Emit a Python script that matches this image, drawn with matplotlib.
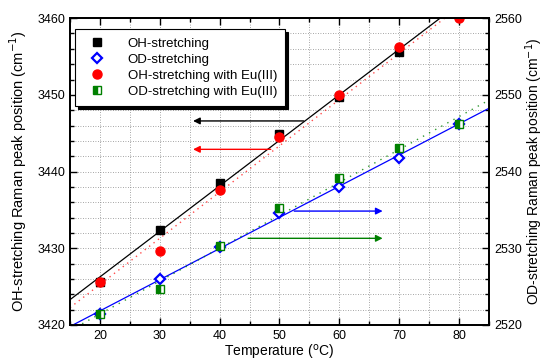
import numpy as np
import matplotlib.pyplot as plt
from matplotlib.ticker import MultipleLocator

plt.rcParams['font.family'] = ['Liberation Sans', 'DejaVu Sans']
plt.rcParams['font.size'] = 9

temp = [20, 30, 40, 50, 60, 70, 80]
oh = [3425.6, 3432.4, 3438.5, 3444.9, 3449.7, 3455.6, 3461.8]
oh_eu = [3425.6, 3429.6, 3437.6, 3444.5, 3450.0, 3456.2, 3460.0]
od = [2521.4, 2526.0, 2530.2, 2534.6, 2538.0, 2541.8, 2546.2]
od_eu = [2521.4, 2524.7, 2530.3, 2535.2, 2539.2, 2543.1, 2546.2]

fig = plt.figure(figsize=(5.45, 3.63), dpi=100)
ax = fig.add_axes([0.1284, 0.1047, 0.7688, 0.8453])
ax2 = ax.twinx()

xfit = np.array([15, 85])
t = np.array(temp)

# linear fits
p = np.polyfit(t, oh, 1)
ax.plot(xfit, np.polyval(p, xfit), color='black', lw=0.9)
p = np.polyfit(t, oh_eu, 1)
ax.plot(xfit, np.polyval(p, xfit), color='red', lw=1.0, ls=(0, (1, 3)), alpha=0.7)
p = np.polyfit(t, od, 1)
ax2.plot(xfit, np.polyval(p, xfit), color='blue', lw=0.9)
p = np.polyfit(t, od_eu, 1)
ax2.plot(xfit, np.polyval(p, xfit), color='green', lw=1.0, ls=(0, (1, 4)), alpha=0.8)

h1, = ax.plot(temp, oh, 's', color='black', ms=5.5, label='OH-stretching')
h3, = ax.plot(temp, oh_eu, 'o', color='red', ms=6.5, label='OH-stretching with Eu(III)')
h2, = ax2.plot(temp, od, 'D', mfc='white', mec='blue', mew=1.6, ms=5, label='OD-stretching')
h4, = ax2.plot(temp, od_eu, 's', color='green', fillstyle='left', mfc='green', mfcalt='white',
               mec='green', ms=5.5, label='OD-stretching with Eu(III)')

# arrows
arr = dict(arrowstyle='-|>', lw=1.0, mutation_scale=10)
ax.annotate('', xy=(35.1, 3446.6), xytext=(54.5, 3446.6), arrowprops=dict(color='black', **arr))
ax.annotate('', xy=(35.1, 3442.9), xytext=(49.0, 3442.9), arrowprops=dict(color='red', **arr))
ax2.annotate('', xy=(67.7, 2534.85), xytext=(52.0, 2534.85), arrowprops=dict(color='blue', **arr))
ax2.annotate('', xy=(67.7, 2531.3), xytext=(44.3, 2531.3), arrowprops=dict(color='green', **arr))

ax.set_xlim(15, 85)
ax.set_ylim(3420, 3460)
ax2.set_ylim(2520, 2560)
ax.xaxis.set_major_locator(MultipleLocator(10))
ax.xaxis.set_minor_locator(MultipleLocator(5))
ax.yaxis.set_major_locator(MultipleLocator(10))
ax.yaxis.set_minor_locator(MultipleLocator(2))
ax2.yaxis.set_major_locator(MultipleLocator(10))
ax2.yaxis.set_minor_locator(MultipleLocator(2))
ax.grid(True, which='both', color='#888888', ls=(0, (1, 2)), lw=0.6)
ax.set_axisbelow(True)

ax.tick_params(which='both', direction='in', top=True, labelsize=9)
ax.tick_params(which='major', length=5, width=1)
ax.tick_params(which='minor', length=3, width=1)
ax2.tick_params(which='both', direction='in', labelsize=9)
ax2.tick_params(which='major', length=5, width=1)
ax2.tick_params(which='minor', length=3, width=1)
for a in (ax, ax2):
    for s in a.spines.values():
        s.set_linewidth(1.3)

ax.set_xlabel('Temperature ($^{\\mathrm{o}}$C)', fontsize=10, labelpad=1)
ax.set_ylabel('OH-stretching Raman peak position (cm$^{-1}$)', fontsize=10.5, labelpad=6)
ax2.set_ylabel('OD-stretching Raman peak position (cm$^{-1}$)', fontsize=10, labelpad=1)

leg = ax2.legend(handles=[h1, h2, h3, h4], loc='upper left', bbox_to_anchor=(-0.004, 0.985),
                 fancybox=False, shadow={'color': 'black', 'alpha': 1}, framealpha=1,
                 edgecolor='black', fontsize=9.5, handletextpad=1.2, borderpad=0.6,
                 labelspacing=0.3, handlelength=2.2)
leg.get_frame().set_linewidth(0.8)

fig.savefig('out.png', dpi=100)
